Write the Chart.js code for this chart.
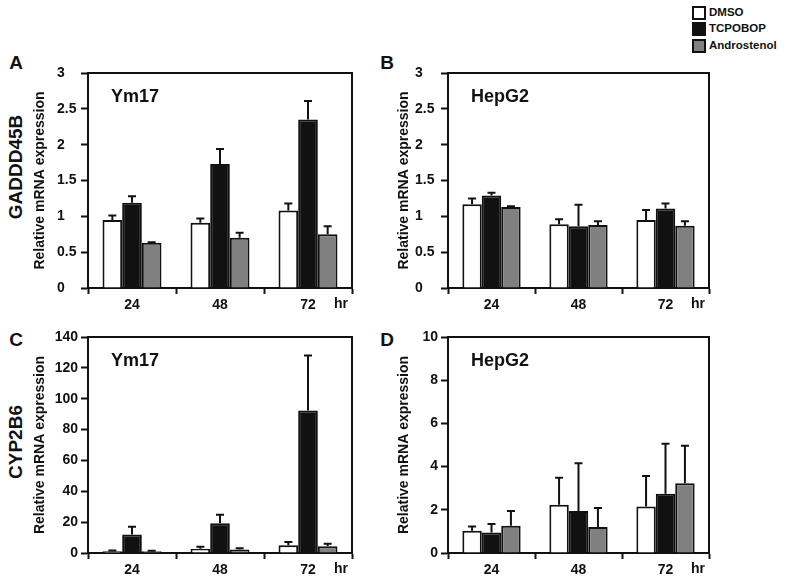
<!DOCTYPE html>
<html>
<head>
<meta charset="utf-8">
<script src="https://cdn.jsdelivr.net/npm/chart.js@4.4.1/dist/chart.umd.min.js"></script>
<style>
  body { margin: 0; background: #fff; }
  #wrap { position: relative; width: 787px; height: 587px; font-family: "Liberation Sans", Arial, sans-serif; font-weight: bold; color: #111; }
  canvas { position: absolute; }
  .txt { position: absolute; white-space: nowrap; }
  .rot { transform: translate(-50%, -50%) rotate(-90deg); }
  .letter { font-size: 19px; transform: translate(-50%, -50%); }
  .lg { position: absolute; left: 692px; font-size: 11.5px; line-height: 13px; }
  .lg span { display: inline-block; width: 10px; height: 10px; border: 2px solid #111; vertical-align: top; margin-right: 3px; }
</style>
</head>
<body>
<div id="wrap">
  <div class="lg" style="top:6px"><span style="background:#fff"></span>DMSO</div>
  <div class="lg" style="top:22px"><span style="background:#111"></span>TCPOBOP</div>
  <div class="lg" style="top:39px"><span style="background:#808080"></span>Androstenol</div>

  <div class="txt letter" style="left:16px;top:63px">A</div>
  <div class="txt letter" style="left:387px;top:63px">B</div>
  <div class="txt letter" style="left:16px;top:340px">C</div>
  <div class="txt letter" style="left:387px;top:340px">D</div>

  <div class="txt rot" style="left:16px;top:167px;font-size:19px">GADDD45B</div>
  <div class="txt rot" style="left:16px;top:442px;font-size:19px">CYP2B6</div>

  <canvas id="chartA" width="345" height="255" style="left:28px;top:60px"></canvas>
  <canvas id="chartB" width="340" height="255" style="left:392px;top:60px"></canvas>
  <canvas id="chartC" width="345" height="256" style="left:28px;top:324px"></canvas>
  <canvas id="chartD" width="340" height="256" style="left:392px;top:324px"></canvas>
</div>
<script>
// time points (hr)
var hours = ['24', '48', '72'];
var seriesNames = ['DMSO', 'TCPOBOP', 'Androstenol'];
var seriesColors = ['#ffffff', '#111111', '#808080'];

// A: GADDD45B, Ym17
var gaddYmDmso = [0.95, 0.91, 1.08];
var gaddYmDmsoSd = [0.06, 0.06, 0.10];
var gaddYmTcpo = [1.19, 1.73, 2.35];
var gaddYmTcpoSd = [0.09, 0.21, 0.26];
var gaddYmAndro = [0.63, 0.70, 0.75];
var gaddYmAndroSd = [0.01, 0.07, 0.11];

// B: GADDD45B, HepG2
var gaddHepDmso = [1.17, 0.89, 0.95];
var gaddHepDmsoSd = [0.08, 0.07, 0.14];
var gaddHepTcpo = [1.29, 0.86, 1.11];
var gaddHepTcpoSd = [0.04, 0.30, 0.07];
var gaddHepAndro = [1.13, 0.88, 0.87];
var gaddHepAndroSd = [0.01, 0.05, 0.06];

// C: CYP2B6, Ym17
var cypYmDmso = [1.1, 2.8, 5.0];
var cypYmDmsoSd = [0.6, 1.2, 2.2];
var cypYmTcpo = [12.0, 19.3, 92.3];
var cypYmTcpoSd = [5.0, 5.5, 35.7];
var cypYmAndro = [1.2, 2.3, 4.4];
var cypYmAndroSd = [0.3, 0.8, 1.6];

// D: CYP2B6, HepG2
var cypHepDmso = [1.03, 2.23, 2.15];
var cypHepDmsoSd = [0.20, 1.25, 1.42];
var cypHepTcpo = [0.95, 1.95, 2.74];
var cypHepTcpoSd = [0.39, 2.20, 2.32];
var cypHepAndro = [1.26, 1.20, 3.23];
var cypHepAndroSd = [0.69, 0.88, 1.74];

var FONT = '"Liberation Sans", Arial, sans-serif';

// top/right frame, inner label, "hr" and error bars
var panelDeco = {
  id: 'panelDeco',
  afterDatasetsDraw: function(chart, args, opts) {
    var ctx = chart.ctx, y = chart.scales.y;
    ctx.save();
    ctx.strokeStyle = '#111';
    ctx.lineWidth = 2;
    chart.data.datasets.forEach(function(ds, i) {
      var meta = chart.getDatasetMeta(i);
      meta.data.forEach(function(bar, j) {
        var top = y.getPixelForValue(ds.data[j] + opts.sd[i][j]);
        ctx.beginPath();
        ctx.moveTo(bar.x, bar.y);
        ctx.lineTo(bar.x, top);
        ctx.moveTo(bar.x - 4, top);
        ctx.lineTo(bar.x + 4, top);
        ctx.stroke();
      });
    });
    ctx.restore();
  },
  afterDraw: function(chart, args, opts) {
    var ctx = chart.ctx, a = chart.chartArea;
    ctx.save();
    ctx.strokeStyle = '#111';
    ctx.lineWidth = 2;
    ctx.beginPath();
    ctx.moveTo(a.left, a.top);
    ctx.lineTo(a.right, a.top);
    ctx.lineTo(a.right, a.bottom);
    ctx.stroke();
    ctx.fillStyle = '#111';
    ctx.font = 'bold 18px ' + FONT;
    ctx.textBaseline = 'middle';
    ctx.fillText(opts.label, a.left + 23, a.top + 24);
    ctx.font = 'bold 14px ' + FONT;
    ctx.textAlign = 'center';
    ctx.fillText('hr', a.right - 11, a.bottom + 16);
    ctx.restore();
  }
};

// lay: left padding, y axis width, title padding, label alignment, right padding
function makePanel(id, label, d1, d2, d3, sd, yMax, yStep, lay) {
  var ctx = document.getElementById(id);
  return new Chart(ctx, {
    type: 'bar',
    data: {
      labels: hours,
      datasets: [
        { label: seriesNames[0], data: d1, backgroundColor: seriesColors[0] },
        { label: seriesNames[1], data: d2, backgroundColor: seriesColors[1] },
        { label: seriesNames[2], data: d3, backgroundColor: seriesColors[2] }
      ]
    },
    options: {
      responsive: false,
      animation: false,
      layout: { padding: { top: 13, right: lay.right, left: lay.left, bottom: 0 } },
      datasets: {
        bar: { borderColor: '#111', borderWidth: 2, categoryPercentage: 0.67, barPercentage: 1.0 }
      },
      scales: {
        x: {
          grid: { display: true, drawOnChartArea: false, offset: true, tickLength: 6, tickColor: '#111', tickWidth: 2 },
          border: { display: true, color: '#111', width: 2 },
          ticks: { color: '#111', padding: 3, font: { family: FONT, size: 14, weight: 'bold' } },
          afterFit: function(s) { s.height = 27; }
        },
        y: {
          min: 0, max: yMax,
          grid: { display: true, drawOnChartArea: false, tickLength: 7, tickColor: '#111', tickWidth: 2 },
          border: { display: true, color: '#111', width: 2 },
          ticks: { stepSize: yStep, color: '#111', padding: 3, crossAlign: lay.align,
                   font: { family: FONT, size: 14, weight: 'bold' },
                   callback: function(v) { return String(v); } },
          title: { display: true, text: 'Relative mRNA expression', color: '#111', padding: { top: lay.titlePad, bottom: 0 },
                   font: { family: FONT, size: 14, weight: 'bold' } },
          afterFit: function(s) { s.width = lay.width; }
        }
      },
      plugins: {
        legend: { display: false },
        tooltip: { enabled: false },
        panelDeco: { label: label, sd: sd }
      }
    },
    plugins: [panelDeco]
  });
}

makePanel('chartA', 'Ym17', gaddYmDmso, gaddYmTcpo, gaddYmAndro,
  [gaddYmDmsoSd, gaddYmTcpoSd, gaddYmAndroSd], 3, 0.5,
  { left: 29, width: 31, titlePad: -25, align: 'far', right: 21 });
makePanel('chartB', 'HepG2', gaddHepDmso, gaddHepTcpo, gaddHepAndro,
  [gaddHepDmsoSd, gaddHepTcpoSd, gaddHepAndroSd], 3, 0.5,
  { left: 23, width: 33, titlePad: -19, align: 'far', right: 23 });
makePanel('chartC', 'Ym17', cypYmDmso, cypYmTcpo, cypYmAndro,
  [cypYmDmsoSd, cypYmTcpoSd, cypYmAndroSd], 140, 20,
  { left: 0, width: 60, titlePad: 4, align: 'near', right: 21 });
makePanel('chartD', 'HepG2', cypHepDmso, cypHepTcpo, cypHepAndro,
  [cypHepDmsoSd, cypHepTcpoSd, cypHepAndroSd], 10, 2,
  { left: 0, width: 56, titlePad: 4, align: 'near', right: 23 });
</script>
</body>
</html>
